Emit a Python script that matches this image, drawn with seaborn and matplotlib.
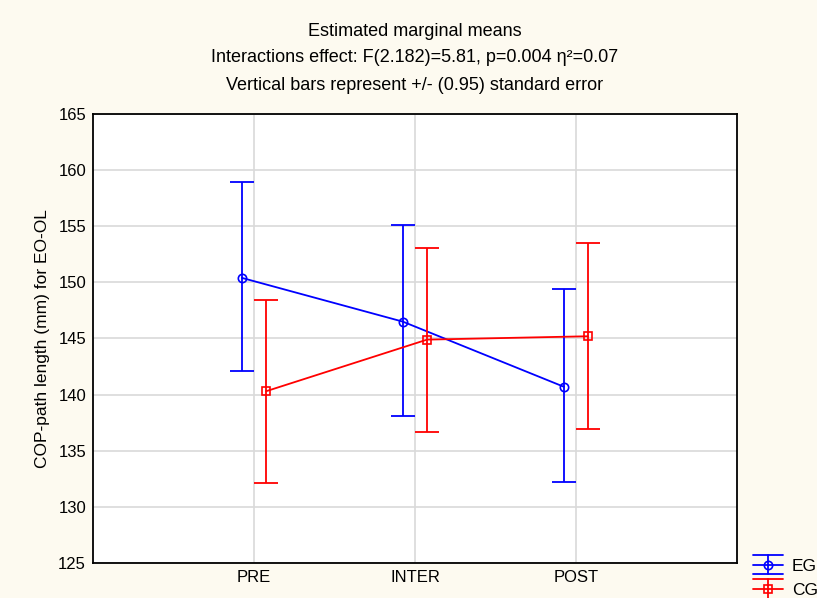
import matplotlib
matplotlib.use("Agg")
import matplotlib.pyplot as plt
import seaborn as sns
import pandas as pd
import numpy as np
from matplotlib.lines import Line2D
from matplotlib.legend_handler import HandlerBase

categories = ["PRE", "INTER", "POST"]
groups = ["EG", "CG"]
eg_mean = [150.4, 146.5, 140.7]
eg_low = [142.1, 138.1, 132.2]
eg_high = [158.9, 155.1, 149.4]
cg_mean = [140.3, 144.9, 145.2]
cg_low = [132.1, 136.7, 136.9]
cg_high = [148.4, 153.1, 153.5]
colors = {"EG": "#0000FF", "CG": "#FF0000"}
markers = {"EG": "o", "CG": "s"}
offsets = {"EG": -0.075, "CG": 0.075}

sns.set_theme(style="white")
plt.rcParams['font.family'] = ['Liberation Sans', 'DejaVu Sans']
plt.rcParams['text.color'] = 'black'

fig = plt.figure(figsize=(8.17, 5.98), dpi=100)
fig.patch.set_facecolor("#FDFAF0")
ax = fig.add_axes([0.1138, 0.0585, 0.7882, 0.7509])
ax.set_facecolor("white")

pos = np.arange(1, len(categories) + 1)
rows = []
for g, m, lo, hi in [("EG", eg_mean, eg_low, eg_high), ("CG", cg_mean, cg_low, cg_high)]:
    for i, c in enumerate(categories):
        rows.append({"group": g, "x": pos[i] + offsets[g], "mean": m[i], "low": lo[i], "high": hi[i]})
df = pd.DataFrame(rows)

for g in groups:
    d = df[df.group == g]
    sns.lineplot(data=d, x="x", y="mean", ax=ax, color=colors[g], lw=1.3,
                 marker=markers[g], markersize=6, markerfacecolor="none",
                 markeredgecolor=colors[g], markeredgewidth=1.2, legend=False, zorder=3)
    ax.errorbar(d["x"], d["mean"], yerr=[d["mean"] - d["low"], d["high"] - d["mean"]],
                fmt="none", ecolor=colors[g], elinewidth=1.3, capsize=8.5, capthick=1.3, zorder=3)


class ErrHandler(HandlerBase):
    def create_artists(self, legend, orig_handle, xdescent, ydescent, width, height, fontsize, trans):
        c = orig_handle.get_color()
        m = orig_handle.get_marker()
        cy = height / 2 - ydescent
        dy = 7.0
        x0, x1 = -xdescent, -xdescent + width
        xm = (x0 + x1) / 2
        arts = []
        for yy in (cy - dy, cy, cy + dy):
            arts.append(Line2D([x0, x1], [yy, yy], color=c, lw=1.3))
        arts.append(Line2D([xm, xm], [cy - dy, cy + dy], color=c, lw=1.3))
        arts.append(Line2D([xm], [cy], marker=m, ms=6, mfc="none", mec=c, mew=1.2, ls="none"))
        for a in arts:
            a.set_transform(trans)
        return arts


proxies = [Line2D([], [], color=colors[g], marker=markers[g]) for g in groups]

ax.set_xlim(0, 4)
ax.set_ylim(125, 165)
ax.set_xticks(pos)
ax.set_xticklabels(categories)
ax.set_yticks(np.arange(125, 166, 5))
ax.grid(True, color="#D9D9D9", lw=1.2)
ax.set_axisbelow(True)
for s in ax.spines.values():
    s.set_color("black")
    s.set_linewidth(1.3)
ax.tick_params(axis="both", length=0, labelsize=12, colors="black", pad=5)
ax.set_xlabel("")
ax.set_ylabel("COP-path length (mm) for EO-OL", fontsize=12.5, color="black", labelpad=6)

cx = 0.1138 + 0.7882 / 2
fig.text(cx, 1 - 32 / 598, "Estimated marginal means", ha="center", va="center", fontsize=13)
fig.text(cx, 1 - 58 / 598, "Interactions effect: F(2.182)=5.81, p=0.004 η²=0.07", ha="center", va="center", fontsize=13)
fig.text(cx, 1 - 85 / 598, "Vertical bars represent +/- (0.95) standard error", ha="center", va="center", fontsize=13)

fig.legend(proxies, groups, loc="upper left", bbox_to_anchor=(753 / 817, 1 - 558 / 598),
           frameon=False, fontsize=12.5, handlelength=1.75, handleheight=0.8, handletextpad=0.5,
           labelspacing=0.5, borderaxespad=0, borderpad=0,
           handler_map={Line2D: ErrHandler()})

fig.savefig("out.png", dpi=100, facecolor=fig.get_facecolor())
